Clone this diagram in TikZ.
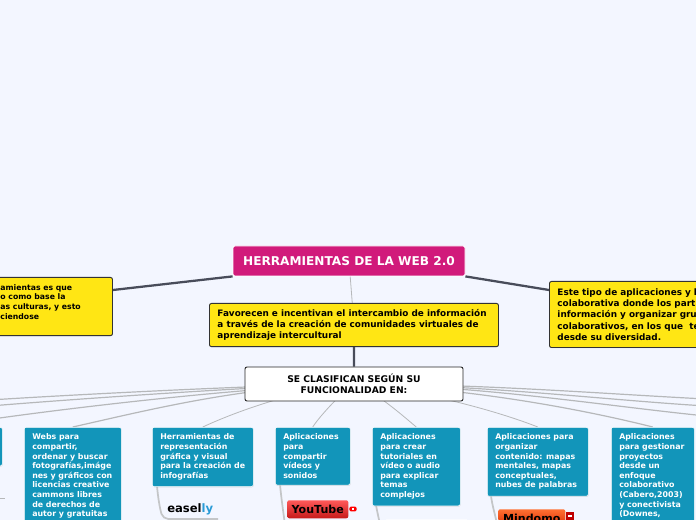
\documentclass[tikz,border=0pt]{standalone}
\usepackage{fontspec}
\setmainfont{DejaVu Sans}
\usetikzlibrary{backgrounds, shadows}
\definecolor{pagebg}{RGB}{243,246,255}
\definecolor{titlepink}{RGB}{209,26,123}
\definecolor{noteyellow}{RGB}{255,230,20}
\definecolor{toolteal}{RGB}{18,149,186}
\definecolor{darklink}{RGB}{72,76,90}
\definecolor{fangray}{RGB}{182,184,186}
\definecolor{branchgray}{RGB}{196,198,200}
\tikzset{
    titlebox/.style={rectangle, rounded corners=1.5pt, draw=white, line width=0.6pt, fill=titlepink,
                     text=white, minimum width=174pt, minimum height=22.5pt,
                     font=\bfseries\fontsize{9.1pt}{11pt}\selectfont},
    notebox/.style={rectangle, rounded corners=1.5pt, draw=black!80, line width=0.7pt, fill=noteyellow,
                    anchor=north west, inner xsep=6pt, inner ysep=4.4pt, align=flush left,
                    drop shadow={shadow xshift=0.3pt, shadow yshift=-0.4pt, opacity=0.3},
                    font=\bfseries\fontsize{6.65pt}{8.4pt}\selectfont},
    classbox/.style={rectangle, rounded corners=1.5pt, draw=black!85, line width=0.7pt, fill=white,
                     minimum width=163.5pt, minimum height=25.5pt, align=center,
                     font=\bfseries\fontsize{6.9pt}{8.3pt}\selectfont},
    toolbox/.style={rectangle, rounded corners=1.5pt, draw=white, line width=0.4pt, fill=toolteal,
                    text=white, anchor=north west, inner xsep=6pt, inner ysep=5pt, align=flush left,
                    drop shadow={shadow xshift=0.3pt, shadow yshift=-0.5pt, opacity=0.25},
                    font=\bfseries\fontsize{5.9pt}{7.2pt}\selectfont},
    brandbox/.style={rectangle, rounded corners=1.5pt, anchor=north west, inner sep=0pt,
                     font=\bfseries\fontsize{8.3pt}{9pt}\selectfont},
    heavylink/.style={draw=darklink, line width=1.7pt},
    fanlink/.style={draw=fangray, line width=0.9pt},
    branchlink/.style={draw=branchgray, line width=1.3pt, rounded corners=4pt}
}
\begin{document}
\begin{tikzpicture}[x=0.75pt,y=-0.75pt]
    \path[use as bounding box, clip] (0,0) rectangle (696,520);

    % Main nodes
    \node[titlebox] (title) at (349,261) {HERRAMIENTAS DE LA WEB 2.0};
    \node[notebox, text width=78pt, inner ysep=5.2pt, font=\bfseries\fontsize{5.8pt}{7.2pt}\selectfont] (noteleft) at (-8,277)
        {amientas es que\\o como base la\\as culturas, y esto\\ciendose\\\mbox{}};
    \node[notebox, text width=204.75pt] (notemid) at (209,303)
        {Favorecen e incentivan el intercambio de información\\a través de la creación de comunidades virtuales de\\aprendizaje intercultural};
    \node[notebox, text width=135pt, inner ysep=5.4pt] (noteright) at (549,281)
        {Este tipo de aplicaciones y l\\colaborativa donde los part\\información y organizar gru\\colaborativos, en los que\ \ te\\desde su diversidad.};
    \node[classbox] (classify) at (354,384) {SE CLASIFICAN SEGÚN SU\\FUNCIONALIDAD EN:};

    % Tool nodes
    \node[toolbox, minimum width=75pt, minimum height=29pt] (toolcut) at (-98,427) {};
    \node[toolbox, text width=60.75pt] (toolwebs) at (24,427)
        {Webs para\\compartir,\\ordenar y buscar\\fotografías,imáge\\nes y gráficos con\\licencias creative\\cammons libres\\de derechos de\\autor y gratuitas};
    \node[toolbox, text width=63.75pt] (toolinfo) at (152,427)
        {Herramientas de\\representación\\gráfica y visual\\para la creación de\\infografías};
    \node[toolbox, text width=44.25pt] (toolvideo) at (275,427)
        {Aplicaciones\\para\\compartir\\vídeos y\\sonidos};
    \node[toolbox, text width=54pt] (tooltutor) at (372,427)
        {Aplicaciones\\para crear\\tutoriales en\\vídeo o audio\\para explicar\\temas\\complejos};
    \node[toolbox, text width=63.75pt] (toolmaps) at (487,427)
        {Aplicaciones para\\organizar\\contenido: mapas\\mentales, mapas\\conceptuales,\\nubes de palabras};
    \node[toolbox, text width=50.25pt] (toolgest) at (611,427)
        {Aplicaciones\\para gestionar\\proyectos\\desde un\\enfoque\\colaborativo\\(Cabero,2003)\\y conectivista\\(Downes,};

    % Brands
    \node[brandbox, font=\bfseries\fontsize{8.7pt}{9pt}\selectfont] (easelly) at (167,503.5) {easel\textcolor[RGB]{42,155,214}{ly}};
    \node[brandbox, minimum width=45.75pt, minimum height=13.5pt,
          top color=red!65!white, bottom color=red!75!black!90] (youtube) at (287,500) {YouTube};
    \node[rectangle, rounded corners=1pt, fill=red, minimum width=5.5pt, minimum height=3.6pt, inner sep=0pt] (youtubeicon) at (353,509) {};
    \node[rectangle, fill=white, minimum width=2pt, minimum height=1.4pt, inner sep=0pt] (youtubedot) at (353,509) {};
    \node[brandbox, minimum width=50.25pt, minimum height=13.5pt, top color=orange!60!red!80!white, bottom color=red!60!orange!85!black] (mindomo) at (498,509) {Mindomo};
    \node[rectangle, fill=red!75!black, minimum width=6pt, minimum height=6.5pt, inner sep=0pt] (mindomoicon) at (570,516) {};
    \node[rectangle, fill=white, minimum width=3pt, minimum height=0.8pt, inner sep=0pt] (mindomodot) at (570,516) {};
    \node[rectangle, rounded corners=1pt, fill=white, anchor=north west, minimum width=62pt, minimum height=10pt, inner sep=0pt] (tutorchild) at (385,519) {};

    % Free ends
    \coordinate (leftjoin) at (113,290);
    \coordinate (rightjoin) at (549,290);
    \coordinate (fanwa) at (-10,400);
    \coordinate (fanwb) at (-10,406);
    \coordinate (fanwc) at (-60,427);
    \coordinate (fanea) at (706,399);
    \coordinate (faneb) at (706,406);
    \coordinate (fanec) at (706,416);
    \coordinate (easelbase) at (218,519);
    \coordinate (videobase) at (285,525);
    \coordinate (tutorbase) at (380,525);
    \coordinate (mapsbase) at (497,525);
    \coordinate (stubstart) at (0,498);
    \coordinate (stubend) at (5,498);

    \begin{pgfonlayer}{background}
        \fill[pagebg] (0,0) rectangle (696,520);

        % Heavy links
        \draw[heavylink] (title.south west) -- (leftjoin);
        \draw[heavylink] (title.south east) -- (rightjoin);
        \draw[heavylink] (notemid) -- (classify);
        \draw[fanlink, line width=0.6pt] (title) -- (notemid);

        % Fan below the class box
        \draw[fanlink] (classify.center) .. controls +(-100,1) and +(60,-4) .. (fanwa);
        \draw[fanlink] (classify.center) .. controls +(-100,2) and +(60,-5) .. (fanwb);
        \draw[fanlink] (classify.center) .. controls +(-130,4) and +(70,-12) .. (fanwc);
        \draw[fanlink] (classify.center) .. controls +(-110,2) and +(80,-18) .. (toolwebs.north);
        \draw[fanlink, line width=0.6pt] (classify.center) .. controls +(-60,6) and +(30,-14) .. (toolinfo.north);
        \draw[fanlink, line width=0.6pt] (classify.center) .. controls +(-10,6) and +(6,-10) .. (toolvideo.north);
        \draw[fanlink, line width=0.6pt] (classify.center) .. controls +(20,6) and +(-12,-10) .. (tooltutor.north);
        \draw[fanlink, line width=0.6pt] (classify.center) .. controls +(80,8) and +(-30,-12) .. (toolmaps.north);
        \draw[fanlink] (classify.center) .. controls +(110,4) and +(-80,-20) .. (toolgest.north);
        \draw[fanlink] (classify.center) .. controls +(130,2) and +(-100,-10) .. (fanec);
        \draw[fanlink] (classify.center) .. controls +(130,1) and +(-100,-6) .. (faneb);
        \draw[fanlink] (classify.center) .. controls +(130,0) and +(-100,-5) .. (fanea);
        \draw[fanlink, line width=0.4pt] (stubstart) -- (stubend);

        % Branches to the brands
        \draw[branchlink] (toolinfo.south west) ++(5,-1) .. controls +(1,12) and +(-3,-10) .. (163,519) -- (easelbase);
        \draw[branchlink] (toolvideo.south west) ++(5,-1) .. controls +(1,12) and +(-1,-8) .. (videobase);
        \draw[branchlink] (tooltutor.south west) ++(4,-1) .. controls +(1,6) and +(-1,-6) .. (tutorbase);
        \draw[branchlink] (toolmaps.south west) ++(4,-1) .. controls +(1,10) and +(-1,-8) .. (mapsbase);
    \end{pgfonlayer}
\end{tikzpicture}
\end{document}
